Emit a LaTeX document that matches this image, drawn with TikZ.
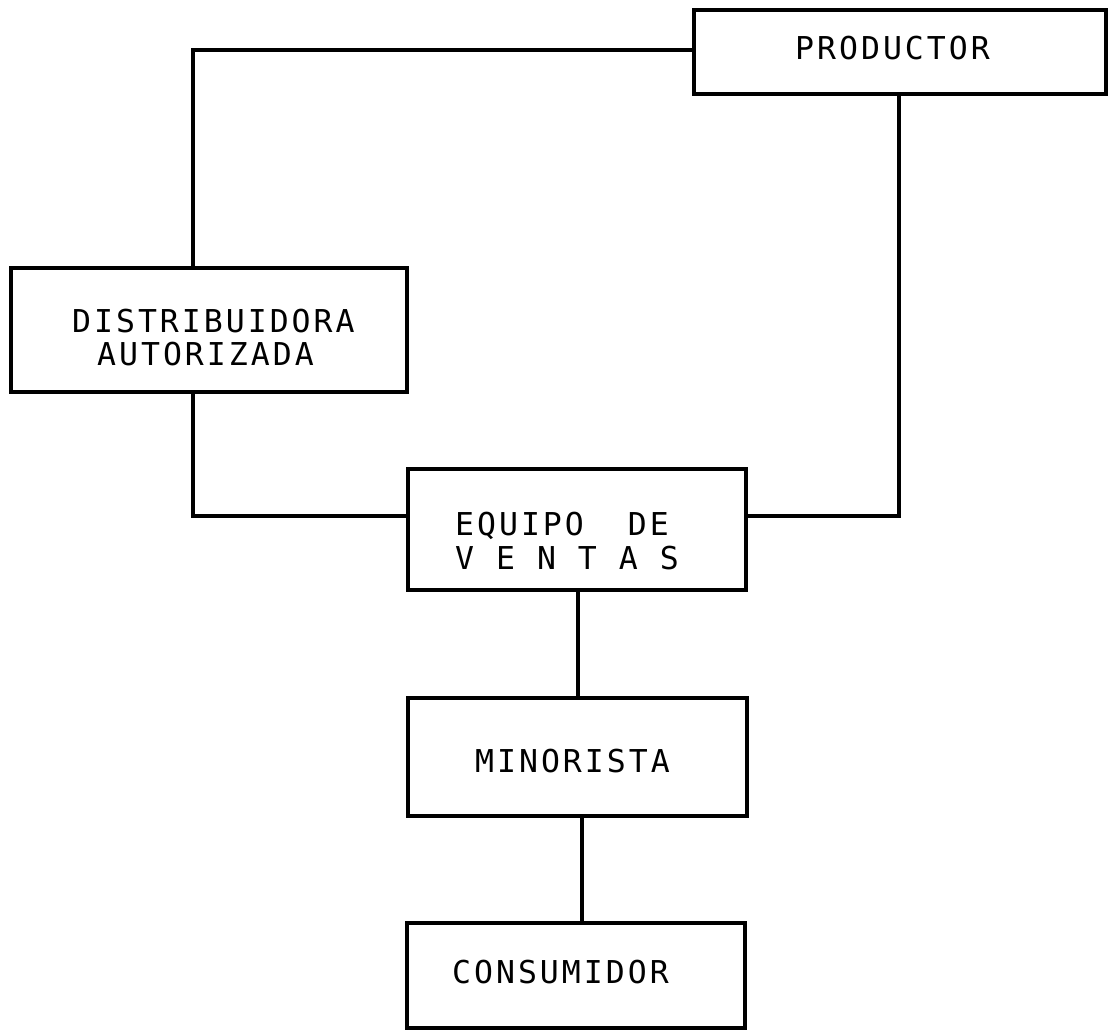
\documentclass[tikz,border=0pt]{standalone}
\usepackage{fontspec}
\newfontfamily\plotfont[LetterSpace=9.5]{DejaVu Sans Mono}
\begin{document}
\begin{tikzpicture}[x=1pt,y=-1pt,
  boxnode/.style={draw=black,line width=4pt,rectangle,inner sep=0pt,outer sep=0pt},
  lbl/.style={anchor=base west,inner sep=0pt,font=\plotfont\fontsize{31.5}{35}\selectfont},
  wire/.style={draw=black,line width=4pt,line join=miter}]
\useasboundingbox (0,0) rectangle (1108,1030);
\fill[white] (0,0) rectangle (1108,1030);
% boxes
\node[boxnode,minimum width=412pt,minimum height=84pt] (prod) at (900,52) {};
\node[boxnode,minimum width=396pt,minimum height=124pt] (dist) at (209,330) {};
\node[boxnode,minimum width=338pt,minimum height=121pt] (equipo) at (577,529.5) {};
\node[boxnode,minimum width=339pt,minimum height=118pt] (mino) at (577.5,757) {};
\node[boxnode,minimum width=338pt,minimum height=105pt] (cons) at (576,975.5) {};
% labels
\node[lbl] (tprod) at (795,60) {PRODUCTOR};
\node[lbl] (tdist1) at (72,332) {DISTRIBUIDORA};
\node[lbl] (tdist2) at (97,365) {AUTORIZADA};
\node[lbl] (teq1) at (455,535) {EQUIPO~~DE};
\node[lbl] (teq2) at (455,569) {V~E~N~T~A~S};
\node[lbl] (tmino) at (475,772) {MINORISTA};
\node[lbl] (tcons) at (452,983) {CONSUMIDOR};
% connector bends
\coordinate (ca) at (193,50);
\coordinate (cb) at (899,516);
\coordinate (cc) at (193,516);
\coordinate (cd) at (578,0);
\coordinate (ce) at (582,0);
\draw[wire] (prod.west |- ca) -- (ca) -- (dist.north -| ca);
\draw[wire] (prod.south -| cb) -- (cb) -- (equipo.east |- cb);
\draw[wire] (dist.south -| cc) -- (cc) -- (equipo.west |- cc);
\draw[wire] (equipo.south -| cd) -- (mino.north -| cd);
\draw[wire] (mino.south -| ce) -- (cons.north -| ce);
\end{tikzpicture}
\end{document}
